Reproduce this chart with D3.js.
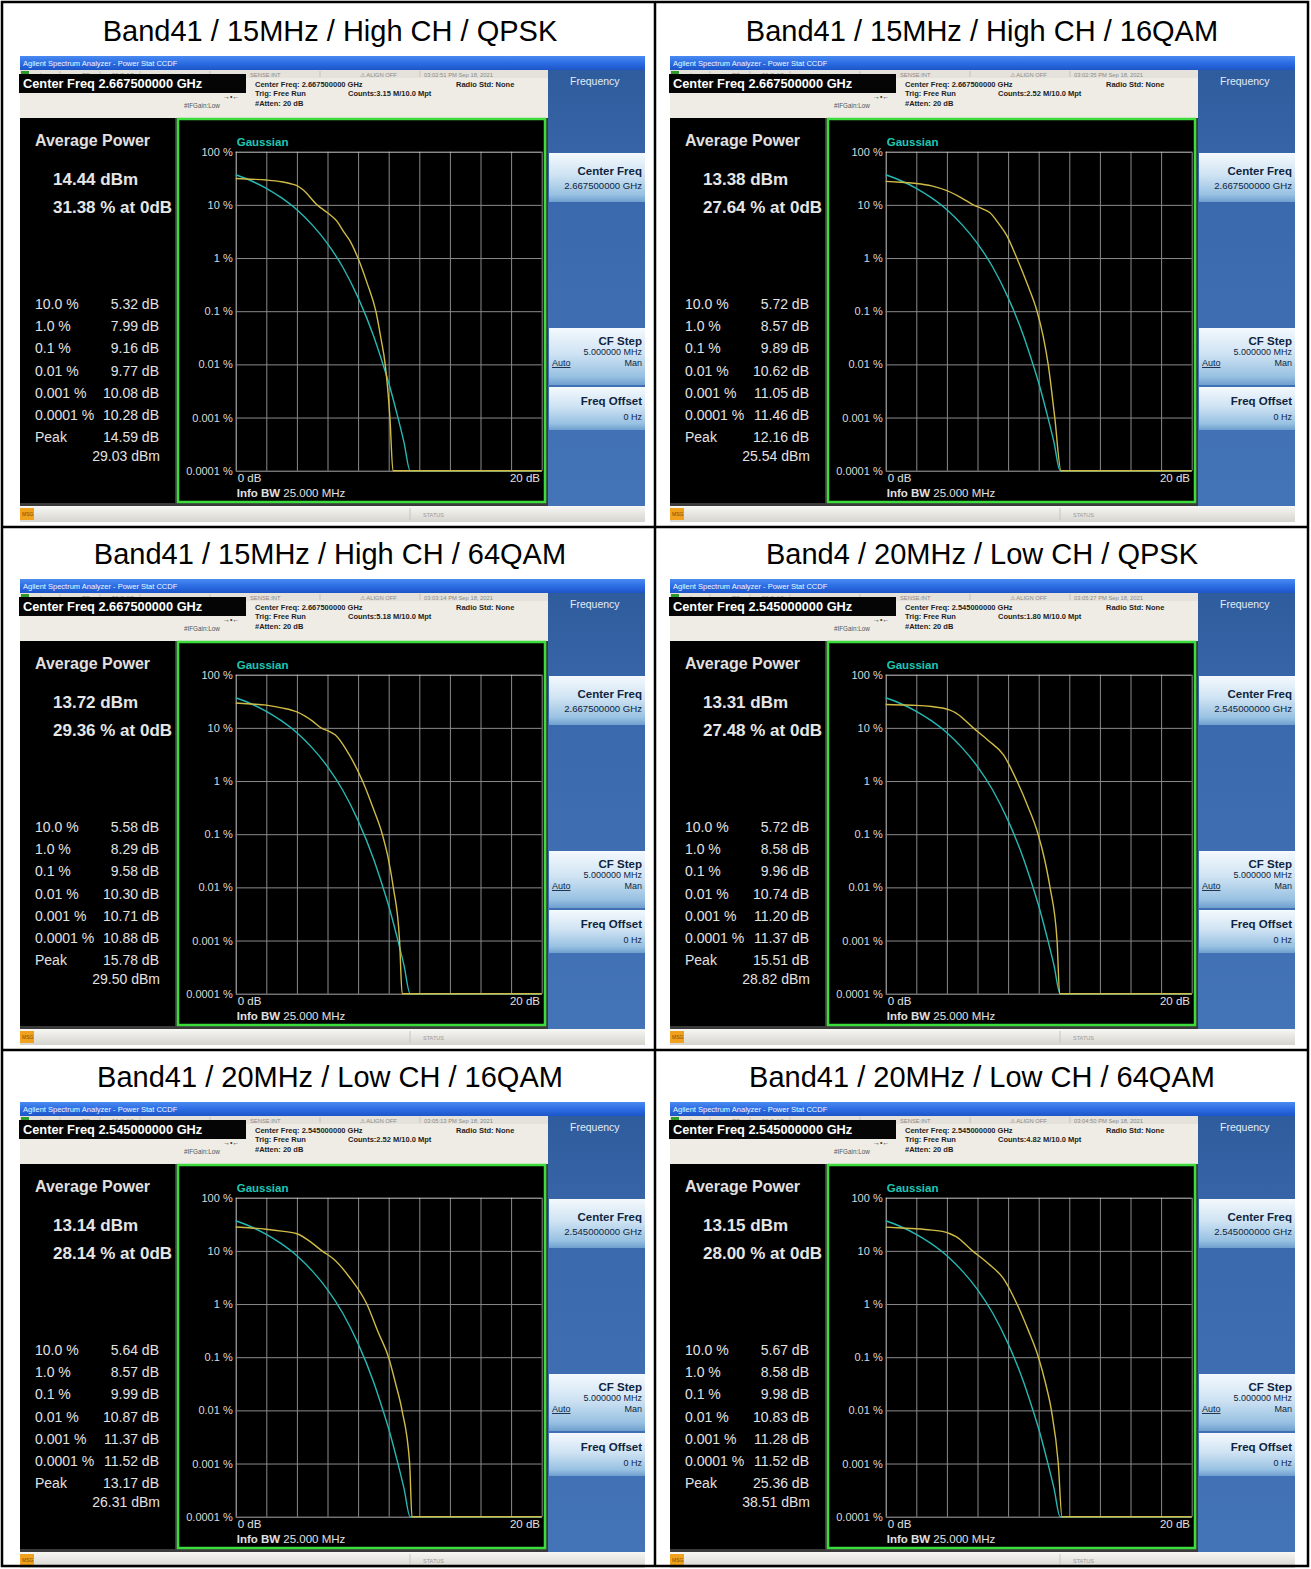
<!DOCTYPE html>
<html>
<head>
<meta charset="utf-8">
<script src="https://cdn.jsdelivr.net/npm/d3@7"></script>
<style>
  body { margin: 0; background: #fff; }
  svg { display: block; font-family: "Liberation Sans", Arial, sans-serif; }
</style>
</head>
<body>
<svg id="chart"></svg>
<script>
// ---- data ----
const titles = [
  "Band41 / 15MHz / High CH / QPSK",
  "Band41 / 15MHz / High CH / 16QAM",
  "Band41 / 15MHz / High CH / 64QAM",
  "Band4 / 20MHz / Low CH / QPSK",
  "Band41 / 20MHz / Low CH / 16QAM",
  "Band41 / 20MHz / Low CH / 64QAM"
];
const centerFreqs = ["2.667500000", "2.667500000", "2.667500000", "2.545000000", "2.545000000", "2.545000000"];
const countsMpt = ["3.15", "2.52", "5.18", "1.80", "2.52", "4.82"];
const timestamps = ["03:02:51 PM Sep 18, 2021", "03:02:35 PM Sep 18, 2021", "03:03:14 PM Sep 18, 2021",
                    "03:05:27 PM Sep 18, 2021", "03:05:13 PM Sep 18, 2021", "03:04:50 PM Sep 18, 2021"];
const avgPowerDbm = ["14.44", "13.38", "13.72", "13.31", "13.14", "13.15"];
const pctAt0dB = ["31.38", "27.64", "29.36", "27.48", "28.14", "28.00"];
const probRowLabels = ["10.0 %", "1.0 %", "0.1 %", "0.01 %", "0.001 %", "0.0001 %"];
const dbAtProb = [
  ["5.32", "7.99", "9.16", "9.77", "10.08", "10.28"],
  ["5.72", "8.57", "9.89", "10.62", "11.05", "11.46"],
  ["5.58", "8.29", "9.58", "10.30", "10.71", "10.88"],
  ["5.72", "8.58", "9.96", "10.74", "11.20", "11.37"],
  ["5.64", "8.57", "9.99", "10.87", "11.37", "11.52"],
  ["5.67", "8.58", "9.98", "10.83", "11.28", "11.52"]
];
const peakDb = ["14.59", "12.16", "15.78", "15.51", "13.17", "25.36"];
const peakDbm = ["29.03", "25.54", "29.50", "28.82", "26.31", "38.51"];

const probTicks = [100, 10, 1, 0.1, 0.01, 0.001, 0.0001];
const probTickLabels = ["100 %", "10 %", "1 %", "0.1 %", "0.01 %", "0.001 %", "0.0001 %"];
const dbTicks = [0, 2, 4, 6, 8, 10, 12, 14, 16, 18, 20];

// Gaussian reference trace (cyan), same in every screen: [dB, %]
const gaussDb  = [0, 1, 2, 3, 4, 5, 6, 7, 8, 9, 9.5, 10, 10.5, 11, 11.4, 20];
const gaussPct = [36.8, 28.4, 20.5, 13.5, 8.1, 4.2, 1.87, 0.67, 0.18, 0.035, 0.013, 0.0045, 0.0013, 0.00034, 0.0001, 0.0001];

// measured traces (yellow): [dB, %]
const measuredTraces = [
  [[0, 31.38], [1, 30.4], [2, 29.3], [3, 27.2], [3.6, 25], [4, 23], [4.4, 19.2], [5.32, 10], [6, 7.1], [6.6, 5],
   [7.1, 3], [7.47, 2.1], [7.99, 1], [8.6, 0.33], [9.16, 0.1], [9.5, 0.03], [9.77, 0.01], [10.08, 0.001],
   [10.28, 0.0001], [20, 0.0001]],
  [[0, 27.64], [1, 26.6], [2, 25.3], [3, 22.8], [4, 18.5], [5, 13.3], [5.72, 10], [6.3, 8.5], [6.8, 7.2], [7.4, 4.4],
   [7.9, 2.7], [8.57, 1], [9.3, 0.3], [9.89, 0.1], [10.3, 0.033], [10.62, 0.01], [11.05, 0.001], [11.46, 0.0001],
   [20, 0.0001]],
  [[0, 29.36], [1, 28.2], [2, 26.8], [3, 23.8], [4, 19.9], [5, 13.5], [5.58, 10], [6.1, 8.6], [6.5, 7.4], [7.4, 3.2],
   [8.29, 1], [9, 0.3], [9.58, 0.1], [10, 0.032], [10.3, 0.01], [10.71, 0.001], [10.88, 0.0001], [20, 0.0001]],
  [[0, 27.48], [1, 27], [2, 26.5], [3, 25.2], [3.7, 23.6], [4.2, 21.5], [4.6, 19], [5.72, 10], [6.7, 5.8], [7.7, 3.1],
   [8.58, 1], [9.3, 0.33], [9.96, 0.1], [10.4, 0.032], [10.74, 0.01], [11.2, 0.001], [11.37, 0.0001], [20, 0.0001]],
  [[0, 28.14], [1, 27], [2, 25.5], [3, 23.5], [4, 21], [5, 14], [5.64, 10], [6.4, 7], [7.4, 3.3], [8.57, 1],
   [9.3, 0.3], [9.99, 0.1], [10.45, 0.032], [10.87, 0.01], [11.37, 0.001], [11.52, 0.0001], [20, 0.0001]],
  [[0, 28.0], [1, 27], [2, 26], [3, 24.6], [3.7, 23.2], [4.2, 21], [4.6, 18.5], [5.67, 10], [6.7, 5.8], [7.7, 3],
   [8.58, 1], [9.3, 0.33], [9.98, 0.1], [10.45, 0.032], [10.83, 0.01], [11.28, 0.001], [11.52, 0.0001], [20, 0.0001]]
];

const width = 1311, height = 1569;
const rowH = 523, colW = 650;

const svg = d3.select("#chart").attr("width", width).attr("height", height);
svg.append("rect").attr("width", width).attr("height", height).attr("fill", "#fff");

// gradients
const defs = svg.append("defs");
function vGrad(id, stops) {
  const lg = defs.append("linearGradient").attr("id", id).attr("x1", 0).attr("y1", 0).attr("x2", 0).attr("y2", 1);
  stops.forEach(s => lg.append("stop").attr("offset", s[0]).attr("stop-color", s[1]));
}
vGrad("titleBar", [[0, "#4a8af0"], [0.5, "#2c6de4"], [1, "#1d55c8"]]);
vGrad("softBg", [[0, "#2f5c9c"], [0.3, "#3b69ad"], [1, "#4474b8"]]);
vGrad("button", [[0, "#f4f9fd"], [0.45, "#cfe3f3"], [0.85, "#98c1e2"], [1, "#6f9fcf"]]);
vGrad("statusBar", [[0, "#f7f7f4"], [1, "#d6d4ce"]]);

function label(g, x, y, str, size, opts = {}) {
  return g.append("text")
    .attr("x", x).attr("y", y)
    .attr("fill", opts.fill || "#e6e6e6")
    .attr("text-anchor", opts.anchor || "start")
    .style("font-size", size + "px")
    .style("font-weight", opts.bold ? "bold" : null)
    .text(str);
}

// plot scales (coordinates inside one screenshot)
const x = d3.scaleLinear().domain([0, 20]).range([215.7, 521.7]);
const y = d3.scaleLog().domain([0.0001, 100]).range([414.7, 95.7]);
const line = d3.line().x(d => x(d[0])).y(d => y(d[1])).curve(d3.curveMonotoneX);

function drawScreen(g, i) {
  const W = 625, H = 466;
  g.append("rect").attr("width", W).attr("height", H).attr("fill", "#3a3a3a");

  // window title bar
  g.append("rect").attr("width", W).attr("height", 14).attr("fill", "url(#titleBar)");
  label(g, 3, 10, "Agilent Spectrum Analyzer - Power Stat CCDF", 7.5, { fill: "#f2f6ff" });

  // header area
  g.append("rect").attr("y", 14).attr("width", 528).attr("height", 48).attr("fill", "#eeece4");
  g.append("rect").attr("y", 14).attr("width", 528).attr("height", 8).attr("fill", "#e4e2da");
  g.append("rect").attr("x", 1).attr("y", 15).attr("width", 8).attr("height", 6).attr("fill", "#2e9a2e");
  [["L", 20], ["RF", 62], ["50 \u03a9  AC", 92], ["SENSE:INT", 230], ["\u26a0 ALIGN OFF", 340], [timestamps[i], 404]]
    .forEach(s => label(g, s[1], 20.5, s[0], 5.8, { fill: "#8a8a8a" }));
  [40, 80, 120, 190, 300, 400].forEach(sx => g.append("line").attr("x1", sx).attr("x2", sx)
    .attr("y1", 15).attr("y2", 21).attr("stroke", "#c4c2ba"));

  g.append("rect").attr("x", -1).attr("y", 18).attr("width", 227).attr("height", 19).attr("fill", "#050505");
  label(g, 3, 32, `Center Freq ${centerFreqs[i]} GHz`, 12.8, { fill: "#fff", bold: true });

  const dark = { fill: "#1e1e1e", bold: true };
  label(g, 235, 31, `Center Freq: ${centerFreqs[i]} GHz`, 7.5, dark);
  label(g, 235, 40, "Trig: Free Run", 7.5, dark);
  label(g, 235, 50, "#Atten: 20 dB", 7.5, dark);
  label(g, 328, 40, `Counts:${countsMpt[i]} M/10.0 Mpt`, 7.5, dark);
  label(g, 436, 31, "Radio Std: None", 7.5, dark);
  label(g, 164, 52, "#IFGain:Low", 6.3, { fill: "#555" });
  label(g, 203, 43, "\u2192\u2022\u2190", 7, { fill: "#333" });

  // softkey panel
  g.append("rect").attr("x", 528).attr("y", 14).attr("width", 97).attr("height", 436).attr("fill", "url(#softBg)");
  label(g, 550, 29, "Frequency", 10.5, { fill: "#e2ecf7" });

  const keyInk = { fill: "#0f2440", anchor: "end" };
  g.append("rect").attr("x", 529).attr("y", 97).attr("width", 96).attr("height", 49).attr("fill", "url(#button)");
  label(g, 622, 119, "Center Freq", 11.5, Object.assign({ bold: true }, keyInk));
  label(g, 622, 133, `${centerFreqs[i]} GHz`, 9.6, keyInk);

  g.append("rect").attr("x", 529).attr("y", 272).attr("width", 96).attr("height", 57).attr("fill", "url(#button)");
  label(g, 622, 289, "CF Step", 11.5, Object.assign({ bold: true }, keyInk));
  label(g, 622, 299, "5.000000 MHz", 9, keyInk);
  label(g, 532, 310, "Auto", 9, { fill: "#0f2440" }).style("text-decoration", "underline");
  label(g, 622, 310, "Man", 9, keyInk);

  g.append("rect").attr("x", 529).attr("y", 331).attr("width", 96).attr("height", 43).attr("fill", "url(#button)");
  label(g, 622, 349, "Freq Offset", 11.5, Object.assign({ bold: true }, keyInk));
  label(g, 622, 364, "0 Hz", 9, keyInk);

  // left readout panel
  g.append("rect").attr("x", 0).attr("y", 62).attr("width", 155).attr("height", 385).attr("fill", "#000");
  label(g, 15, 90, "Average Power", 16, { bold: true, fill: "#e0e0e0" });
  label(g, 33, 129, `${avgPowerDbm[i]} dBm`, 17, { bold: true });
  label(g, 33, 157, `${pctAt0dB[i]} % at 0dB`, 17, { bold: true });
  const rowY = [253, 275, 297, 320, 342, 364];
  probRowLabels.forEach((p, k) => {
    label(g, 15, rowY[k], p, 14, { fill: "#e2e2e2" });
    label(g, 139, rowY[k], `${dbAtProb[i][k]} dB`, 14, { fill: "#e2e2e2", anchor: "end" });
  });
  label(g, 15, 386, "Peak", 14, { fill: "#e2e2e2" });
  label(g, 139, 386, `${peakDb[i]} dB`, 14, { fill: "#e2e2e2", anchor: "end" });
  label(g, 140, 405, `${peakDbm[i]} dBm`, 14, { fill: "#e2e2e2", anchor: "end" });

  // graph window
  g.append("rect").attr("x", 158).attr("y", 63).attr("width", 367).attr("height", 383)
    .attr("fill", "#000").attr("stroke", "#3ddc3d").attr("stroke-width", 2.5);

  const plotW = x.range()[1] - x.range()[0];
  const plotH = y.range()[0] - y.range()[1];

  const gx = g.append("g").attr("transform", `translate(0,${y.range()[0]})`)
    .call(d3.axisBottom(x).tickValues(dbTicks).tickSize(-plotH).tickFormat(""));
  gx.select(".domain").remove();
  gx.selectAll("line").attr("stroke", (d, k) => k === 0 ? "#c8c8c8" : "#8a8a8a");

  const gy = g.append("g").attr("transform", `translate(${x(0)},0)`)
    .call(d3.axisLeft(y).tickValues(probTicks).tickSize(-plotW).tickPadding(3)
      .tickFormat((d, k) => probTickLabels[k]));
  gy.attr("font-family", null).attr("font-size", null);
  gy.select(".domain").remove();
  gy.selectAll("line").attr("stroke", (d, k) => k === 0 ? "#c8c8c8" : (k === probTicks.length - 1 ? "#a8a8a8" : "#8a8a8a"));
  gy.selectAll("text").attr("fill", "#dadada").style("font-size", "11px");

  label(g, 216.7, 89.7, "Gaussian", 11.5, { fill: "#1fc6b4", bold: true });
  label(g, 217.7, 425.7, "0 dB", 11.5, { fill: "#e0e0e0" });
  label(g, 520, 425.7, "20 dB", 11.5, { fill: "#e0e0e0", anchor: "end" });
  const info = label(g, 216.7, 440.5, "", 11.5, { fill: "#e0e0e0" });
  info.append("tspan").style("font-weight", "bold").text("Info BW");
  info.append("tspan").text(" 25.000 MHz");

  const gauss = gaussDb.map((d, k) => [d, gaussPct[k]]);
  g.append("path").datum(gauss).attr("d", line)
    .attr("fill", "none").attr("stroke", "#26b8b4").attr("stroke-width", 1.4);
  g.append("path").datum(measuredTraces[i]).attr("d", line)
    .attr("fill", "none").attr("stroke", "#cfbb45").attr("stroke-width", 1.4);

  // bottom status bar
  g.append("rect").attr("y", 450).attr("width", W).attr("height", 16).attr("fill", "url(#statusBar)");
  g.append("rect").attr("x", 0).attr("y", 452).attr("width", 14).attr("height", 12).attr("fill", "#f0a21e");
  label(g, 2, 460, "MSG", 5, { fill: "#7a4a00" });
  g.append("line").attr("x1", 390).attr("x2", 390).attr("y1", 452).attr("y2", 464).attr("stroke", "#c8c6c0");
  label(g, 403, 461, "STATUS", 5.5, { fill: "#9a9a9a" });
}

titles.forEach((t, i) => {
  const col = i % 2, row = Math.floor(i / 2);
  label(svg, col === 0 ? 330 : 982, 40.5 + row * rowH, t, 29, { fill: "#000", anchor: "middle" });
  const g = svg.append("g").attr("transform", `translate(${20 + col * colW},${56 + row * rowH})`);
  drawScreen(g, i);
});

// table grid
const grid = svg.append("g").attr("fill", "none").attr("stroke", "#000").attr("stroke-width", 2.5);
grid.append("rect").attr("x", 2).attr("y", 2).attr("width", 1306).attr("height", 1564);
[527, 1050].forEach(ly => grid.append("line").attr("x1", 2).attr("x2", 1308).attr("y1", ly).attr("y2", ly));
grid.append("line").attr("x1", 655).attr("x2", 655).attr("y1", 2).attr("y2", 1566);
</script>
</body>
</html>
